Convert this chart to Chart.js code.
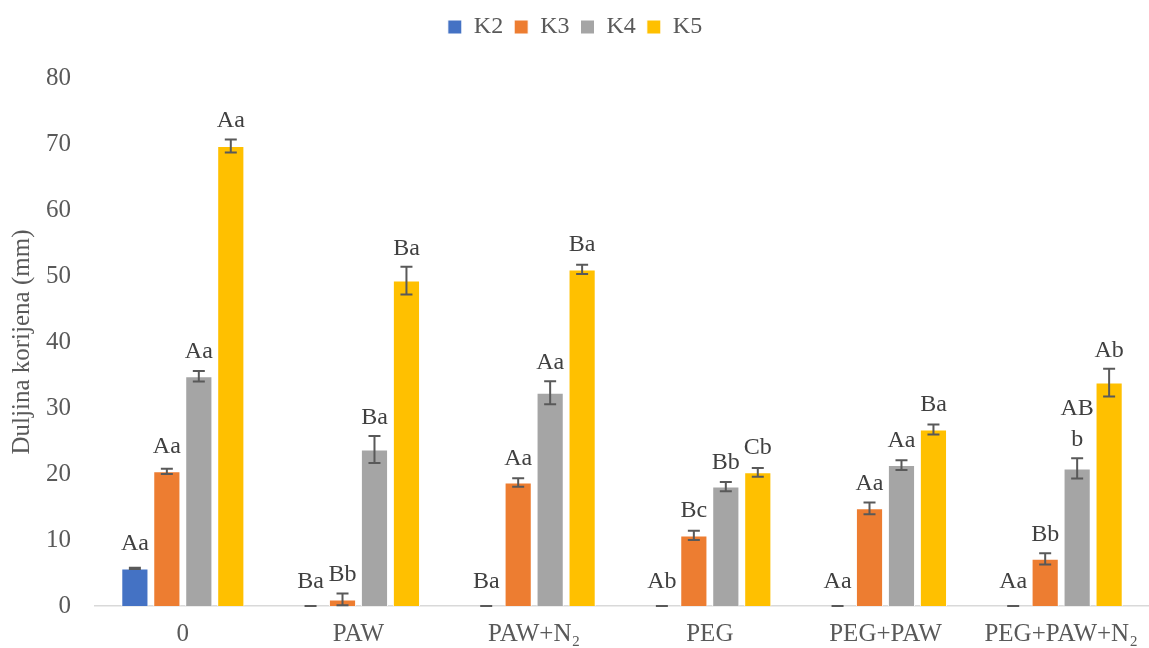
<!DOCTYPE html>
<html>
<head>
<meta charset="utf-8">
<script src="https://cdn.jsdelivr.net/npm/chart.js@4/dist/chart.umd.min.js"></script>
<style>
  html, body { margin: 0; padding: 0; background: #fff; }
  #wrap { width: 1149px; height: 648px; }
</style>
</head>
<body>
<div id="wrap"><canvas id="root-chart"></canvas></div>
<script>
const categories = ["0", "PAW", "PAW+N₂", "PEG", "PEG+PAW", "PEG+PAW+N₂"];

const k2 = [5.7, 0, 0, 0, 0, 0];
const k3 = [20.4, 1.0, 18.7, 10.7, 14.8, 7.15];
const k4 = [34.8, 23.7, 32.3, 18.1, 21.35, 20.85];
const k5 = [69.7, 49.3, 51.0, 20.25, 26.75, 33.85];

const k2Err = [0.1, 0, 0, 0, 0, 0];
const k3Err = [0.4, 0.9, 0.65, 0.7, 0.9, 0.85];
const k4Err = [0.8, 2.05, 1.75, 0.7, 0.75, 1.55];
const k5Err = [1.0, 2.1, 0.7, 0.65, 0.75, 2.1];

const k2Letters = ["Aa", "Ba", "Ba", "Ab", "Aa", "Aa"];
const k3Letters = ["Aa", "Bb", "Aa", "Bc", "Aa", "Bb"];
const k4Letters = ["Aa", "Ba", "Aa", "Bb", "Aa", "AB\nb"];
const k5Letters = ["Aa", "Ba", "Ba", "Cb", "Ba", "Ab"];

const yTicks = [0, 10, 20, 30, 40, 50, 60, 70, 80];

const textColor = "#595959";
const fontFamily = "'Liberation Serif', 'Times New Roman', serif";

// make room between legend and plot
const legendSpace = {
  id: "legendSpace",
  beforeInit(chart) {
    const fit = chart.legend.fit;
    chart.legend.fit = function () {
      fit.call(this);
      this.height = 74;
    };
  }
};

// error bars + significance letters
const errorBarPlugin = {
  id: "errorBars",
  afterDatasetsDraw(chart) {
    const ctx = chart.ctx;
    const yScale = chart.scales.y;
    chart.data.datasets.forEach((ds, i) => {
      const meta = chart.getDatasetMeta(i);
      meta.data.forEach((bar, j) => {
        const v = ds.data[j];
        const e = ds.errors[j];
        const yVal = yScale.getPixelForValue(v);
        const yTop = yScale.getPixelForValue(v + e);
        const yBot = yScale.getPixelForValue(Math.max(v - e, 0));
        const x = bar.x;
        ctx.save();
        ctx.strokeStyle = "#595959";
        ctx.lineWidth = 2;
        ctx.beginPath();
        ctx.moveTo(x, yTop);
        ctx.lineTo(x, yBot);
        ctx.moveTo(x - 6, yTop);
        ctx.lineTo(x + 6, yTop);
        ctx.moveTo(x - 6, yBot);
        ctx.lineTo(x + 6, yBot);
        ctx.stroke();

        const lines = ds.letters[j].split("\n");
        ctx.fillStyle = "#404040";
        ctx.font = "24px " + fontFamily;
        ctx.textAlign = "center";
        ctx.textBaseline = "alphabetic";
        let base = Math.min(yVal - 18, yTop - 12);
        for (let k = lines.length - 1; k >= 0; k--) {
          ctx.fillText(lines[k], x, base);
          base -= 31;
        }
        ctx.restore();
      });
    });
  }
};

const mkSet = (label, data, errors, letters, color) => ({
  label: label,
  data: data,
  errors: errors,
  letters: letters,
  backgroundColor: color,
  borderColor: "#ffffff",
  borderWidth: 1,
  categoryPercentage: 0.728,
  barPercentage: 0.85,
});

const config = {
  type: "bar",
  data: {
    labels: categories,
    datasets: [
      mkSet("K2", k2, k2Err, k2Letters, "#4472C4"),
      mkSet("K3", k3, k3Err, k3Letters, "#ED7D31"),
      mkSet("K4", k4, k4Err, k4Letters, "#A5A5A5"),
      mkSet("K5", k5, k5Err, k5Letters, "#FFC000"),
    ],
  },
  options: {
    responsive: true,
    maintainAspectRatio: false,
    animation: false,
    layout: { padding: { left: 1, right: 0, top: 4, bottom: 0 } },
    plugins: {
      legend: {
        position: "top",
        labels: {
          color: textColor,
          font: { family: fontFamily, size: 24 },
          boxWidth: 14,
          boxHeight: 14,
          padding: 11,
        },
      },
      tooltip: { enabled: false },
    },
    scales: {
      x: {
        afterFit: (axis) => {
          axis.height = 42;
          axis.paddingLeft = 0;
          axis.paddingRight = 0;
        },
        grid: { display: false, drawTicks: false },
        border: { color: "#d9d9d9", width: 1.5 },
        ticks: {
          color: textColor,
          font: { family: fontFamily, size: 25, lineHeight: 1 },
          padding: 16,
          autoSkip: false,
          maxRotation: 0,
        },
      },
      y: {
        min: 0,
        max: 80,
        afterBuildTicks: (axis) => {
          axis.ticks = yTicks.map((v) => ({ value: v }));
        },
        afterFit: (axis) => {
          axis.width = 94;
        },
        grid: { display: false, drawTicks: false },
        border: { display: false },
        ticks: {
          color: textColor,
          font: { family: fontFamily, size: 25 },
          padding: 24,
        },
        title: {
          display: true,
          text: "Duljina korijena (mm)",
          color: textColor,
          font: { family: fontFamily, size: 25 },
          padding: 6,
        },
      },
    },
  },
  plugins: [legendSpace, errorBarPlugin],
};

new Chart(document.getElementById("root-chart"), config);
</script>
</body>
</html>
